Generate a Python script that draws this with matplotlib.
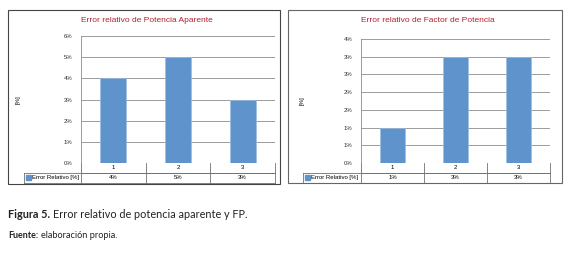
import matplotlib.pyplot as plt
from matplotlib.patches import Rectangle
from matplotlib.ticker import FuncFormatter
import numpy as np

# datos
categorias = ['1', '2', '3']
err_potencia = [4, 5, 3]
err_fp = [1, 3, 3]
serie = 'Error Relativo [%]'
titulo_1 = 'Error relativo de Potencia Aparente'
titulo_2 = 'Error relativo de Factor de Potencia'

W, H = 565, 260
fig = plt.figure(figsize=(W / 100, H / 100), dpi=100)
plt.rcParams['font.family'] = ['Liberation Sans', 'DejaVu Sans']

azul = '#5e93cb'
rojo = '#b3202e'
gris = '#8c8c8c'


def fx(x):
    return x / W


def fy(y):
    return 1 - y / H


def panel(caja, area, tabla_x, valores, titulo, ymax, paso, titulo_y, borde):
    x0, y0, x1, y1 = caja
    fig.add_artist(Rectangle((fx(x0), fy(y1)), fx(x1 - x0), (y1 - y0) / H,
                             transform=fig.transFigure, fill=False,
                             edgecolor=borde, lw=0.8))
    px0, py0, px1, py1 = area
    ax = fig.add_axes([fx(px0), fy(py1), fx(px1 - px0), (py1 - py0) / H])
    x = np.arange(len(categorias))
    ax.bar(x, valores, width=0.4, color=azul, edgecolor='#9dbde0', lw=0.5, zorder=3)
    ax.set_xlim(-0.5, len(categorias) - 0.5)
    ax.set_ylim(0, ymax)
    ax.set_yticks(np.arange(0, ymax + paso / 2, paso))
    ax.yaxis.set_major_formatter(FuncFormatter(lambda v, p: '%d%%' % int(v + 0.5)))
    ax.tick_params(axis='y', labelsize=4.3, length=0, pad=6, labelcolor='#333333')
    ax.set_xticks([])
    ax.grid(axis='y', color=gris, lw=0.6, zorder=0)
    for s in ['top', 'right', 'bottom']:
        ax.spines[s].set_visible(False)
    ax.spines['left'].set_color(gris)
    ax.spines['left'].set_linewidth(0.6)
    ax.set_ylabel('[%]', fontsize=4.3, labelpad=0)
    ax.yaxis.set_label_coords((titulo_y - px0) / (px1 - px0), 0.5)
    fig.text(fx((x0 + x1) / 2 + 3), fy(y0 + 11), titulo, color=rojo, fontsize=6.0,
             ha='center', va='center')

    # tabla de datos
    r0, r1, r2 = py1, py1 + 9.5, py1 + 19.5
    tr = ax.transAxes
    def ax_x(xp):
        return (xp - px0) / (px1 - px0)
    def ax_y(yp):
        return (py1 - yp) / (py1 - py0)
    kw = dict(transform=tr, color='#707070', lw=0.6, clip_on=False)
    ax.plot([ax_x(px0), ax_x(px1)], [ax_y(r1)] * 2, **kw)
    ax.plot([ax_x(tabla_x), ax_x(px1)], [ax_y(r2)] * 2, **kw)
    ax.plot([ax_x(tabla_x), ax_x(px1)], [ax_y(r1)] * 2, **kw)
    ax.plot([ax_x(tabla_x)] * 2, [ax_y(r1), ax_y(r2)], **kw)
    for i in range(len(categorias) + 1):
        xx = i / len(categorias)
        ax.plot([xx, xx], [ax_y(r0), ax_y(r2)], **kw)
    for i, (c, v) in enumerate(zip(categorias, valores)):
        xc = (i + 0.5) / len(categorias)
        ax.text(xc, ax_y((r0 + r1) / 2), c, transform=tr, fontsize=4.3,
                ha='center', va='center')
        ax.text(xc, ax_y((r1 + r2) / 2), '%d%%' % v, transform=tr, fontsize=4.3,
                ha='center', va='center')
    ax.add_patch(Rectangle((ax_x(tabla_x + 2), ax_y((r1 + r2) / 2 + 2.5)),
                           ax_x(px0 + 5) - ax_x(px0), ax_y(py1 - 5) - ax_y(py1),
                           transform=tr, color=azul, clip_on=False))
    ax.text(ax_x(tabla_x + 8), ax_y((r1 + r2) / 2), serie, transform=tr,
            fontsize=4.3, ha='left', va='center')
    return ax


panel((8, 10, 280, 184), (81, 36, 275, 163), 24, err_potencia, titulo_1, 6, 1, 21, '#444444')
panel((288, 10, 562, 183), (361, 39, 550, 163), 303, err_fp, titulo_2, 3.5, 0.5, 305, '#666666')

fuente = ['Lato', 'DejaVu Sans']
fig.text(fx(8), fy(215), 'Figura 5.', fontsize=7.8, fontweight='bold',
         family=fuente, va='center', color='#222222')
fig.text(fx(53), fy(215), 'Error relativo de potencia aparente y FP.', fontsize=7.8,
         family=fuente, va='center', color='#222222')
fig.text(fx(8), fy(236), 'Fuente:', fontsize=6.4, fontweight='bold',
         family=fuente, va='center', color='#222222')
fig.text(fx(41), fy(236), 'elaboración propia.', fontsize=6.6,
         family=fuente, va='center', color='#222222')

fig.savefig('out.png', dpi=100)
